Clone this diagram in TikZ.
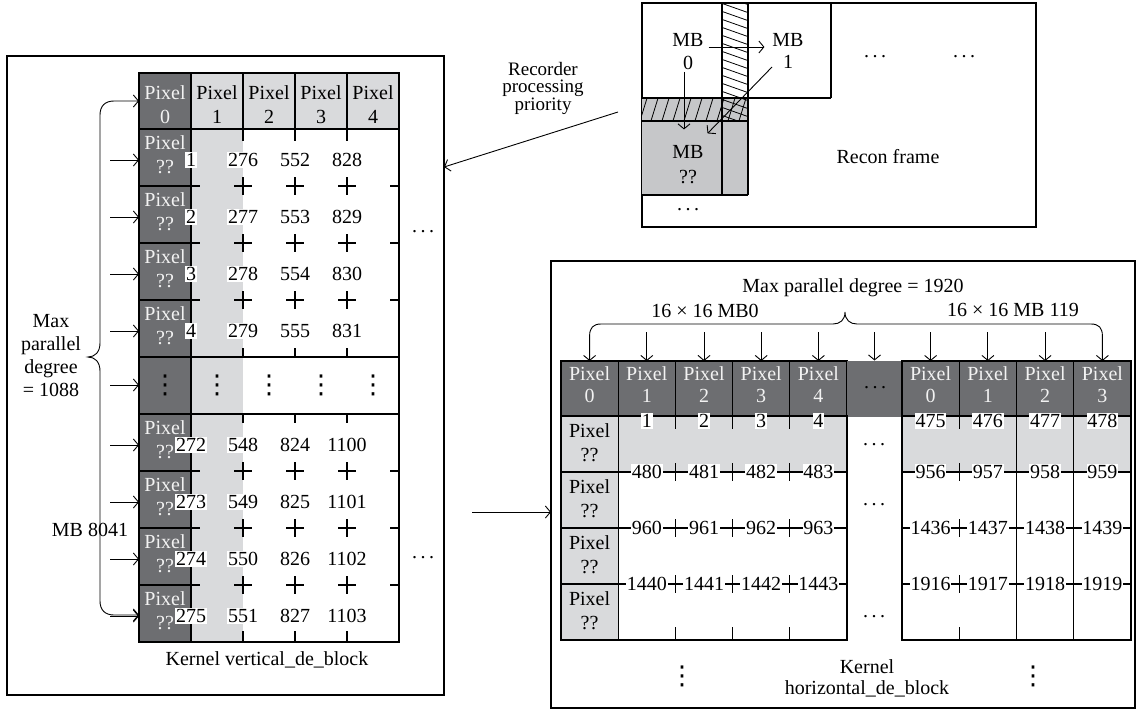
\documentclass[tikz,border=0pt]{standalone}
\usepackage{fontspec}
\setmainfont{Liberation Serif}
\newfontfamily\dvsans{DejaVu Sans}
\usetikzlibrary{arrows.meta,calc}
\definecolor{dkg}{HTML}{6D6E71}
\definecolor{ltg}{HTML}{D9DADC}
\definecolor{rcg}{HTML}{C6C7C9}
\definecolor{wtx}{HTML}{F2F2F2}
\newcommand{\hdt}{.\kern3.5pt.\kern3.5pt.}
\newcommand{\vdt}{{\dvsans\fontsize{26}{26}\selectfont ⋮}}
\begin{document}
\begin{tikzpicture}[x=1pt,y=-1pt,
  font=\fontsize{20}{24}\selectfont,
  every node/.style={inner sep=0pt,outer sep=0pt},
  ln/.style={line width=1.1pt},
  tk/.style={line width=1.3pt},
  arr/.style={line width=0.9pt,-{Straight Barb[length=5pt,width=12pt]}},
  barr/.style={line width=0.9pt,{Straight Barb[length=5pt,width=12pt]}-{Straight Barb[length=5pt,width=12pt]}},
  frame/.style={draw,line width=1.2pt},
  lcell/.style={draw,line width=1.1pt,minimum width=52pt,minimum height=57pt},
  hcellL/.style={draw,line width=1.1pt,minimum width=52pt,minimum height=56pt},
  rcell/.style={draw,line width=1.1pt,minimum width=57.2pt,minimum height=56pt},
  kcell/.style={draw,line width=1.1pt,minimum width=57.25pt,minimum height=55pt},
  num/.style={fill=white,inner xsep=0.8pt,inner ysep=1.5pt},
  wt/.style={text=wtx,align=center},
  bt/.style={align=center},
]
\useasboundingbox (0,0) rectangle (1136,710);
% ---------------- frames
\node[frame,minimum width=437pt,minimum height=639pt] (Lbox) at (225.5,375.5) {};
\node[frame,minimum width=394pt,minimum height=224pt] (Rf) at (839,115) {};
\node[frame,minimum width=584pt,minimum height=447pt] (Rbox) at (843,484.5) {};

% ---------------- left grid: header
\node[hcellL,fill=dkg] (Lh0) at (165,101) {};
\foreach \i/\x in {1/217,2/269,3/321,4/373}
  \node[hcellL,fill=ltg] (Lh\i) at (\x,101) {};
\node[wt] (Lt0) at (165,105) {Pixel\\0};
\foreach \i/\x in {1/217,2/269,3/321,4/373}
  \node[bt] (Lt\i) at (\x,105) {Pixel\\\i};

% ---------------- left grid: body
\fill[ltg] (191,129) rectangle (243,642);
\foreach \i/\t in {1/129,2/186,3/243,4/300,5/357,6/414,7/471,8/528,9/585}
  \node[lcell,fill=dkg] (Ld\i) at (165,\t+28.5) {};
\draw[ln] (139,129) rectangle (399,642);
\draw[ln] (139,357) rectangle (399,414);
\foreach \x in {243,295,347}{
  \draw[tk] (\x,129) -- (\x,141);
  \draw[tk] (\x,348) -- (\x,357);
  \draw[tk] (\x,414) -- (\x,423);
  \draw[tk] (\x,631) -- (\x,642);
  \foreach \y in {186,243,300,471,528,585}{
    \draw[tk] (\x,\y-9) -- (\x,\y+9);
    \draw[tk] (\x-9,\y) -- (\x+9,\y);
  }
}
\foreach \y in {186,243,300,471,528,585}{
  \draw[tk] (191,\y) -- (200,\y);
  \draw[tk] (390,\y) -- (399,\y);
}
\foreach \x in {165,217,269,321,373}
  \node (vd\x) at (\x,385) {\vdt};
\foreach \i/\t/\n/\na/\nb/\nc in {1/129/1/276/552/828,2/186/2/277/553/829,3/243/3/278/554/830,4/300/4/279/555/831,6/414/272/548/824/1100,7/471/273/549/825/1101,8/528/274/550/826/1102,9/585/275/551/827/1103}{
  \node[wt] (Lp\i) at (165,\t+26) {Pixel\\??};
  \node[num] (La\i) at (191,\t+31) {\n};
  \node[num] (Lb\i) at (243,\t+31) {\na};
  \node[num] (Lc\i) at (295,\t+31) {\nb};
  \node[num] (Le\i) at (347,\t+31) {\nc};
  \coordinate (lar\i) at (110,\t+31);
  \draw[arr] (lar\i) -- (Ld\i.west |- lar\i);
}
\coordinate (lar5) at (110,385);
\draw[arr] (lar5) -- (Ld5.west |- lar5);

% bracket
\coordinate (bb) at (114,615);
\draw[barr] (Lh0.west) -- (114,101) .. controls (105,101) and (100,106) .. (100,115)
  -- (100,343) .. controls (100,352) and (95,357) .. (88,357)
  .. controls (95,357) and (100,362) .. (100,371)
  -- (100,601) .. controls (100,610) and (105,615) .. (bb) -- (Ld9.west |- bb);

\node[align=center,font=\fontsize{20}{23}\selectfont] (mpdL) at (51,356) {Max\\parallel\\degree\\= 1088};
\node (mb8041) at (90,530) {MB 8041};
\node (kvd) at (267,660) {Kernel vertical\_de\_block};
\node (ldA) at (423,232) {\hdt};
\node (ldB) at (423,558) {\hdt};

% ---------------- recon frame
\fill[rcg] (642,98) rectangle (748,195);
\begin{scope}
  \clip (642,98) rectangle (748,121);
  \foreach \x in {628,639,...,760} \draw[line width=0.8pt] (\x,124) -- (\x+9,95);
\end{scope}
\begin{scope}
  \clip (722,3) rectangle (748,121);
  \foreach \y in {-14,-6,...,126} \draw[line width=0.8pt] (718,\y) -- (752,\y+12);
\end{scope}
\draw[ln] (722,3) -- (722,195);
\draw[ln] (748,3) -- (748,195);
\draw[ln] (642,98) -- (831,98);
\draw[ln] (831,3) -- (831,98);
\draw[ln] (642,121) -- (748,121);
\draw[ln] (642,195) -- (748,195);
\node (mb0) at (688,40) {MB};
\node (mb0n) at (688,63) {0};
\node (mb1) at (788,40) {MB};
\node (mb1n) at (788,62) {1};
\node (mbq) at (688,152) {MB};
\node (mbqn) at (688,177) {??};
\node (rdA) at (688,210) {\hdt};
\node (rdB) at (875,57) {\hdt};
\node (rdC) at (964,57) {\hdt};
\node (rft) at (888,157) {Recon frame};
\draw[arr] ($(mb0.east)+(5,7)$) -- ($(mb1.west)+(-8,7)$);
\draw[arr] ($(mb0n.south)+(-4,2)$) -- ($(mbq.north)+(-4,-16)$);
\draw[arr] ($(mb1n.west)+(-11,5)$) -- ($(mbq.north east)+(4,-12)$);

\node[align=center,font=\fontsize{19}{17.5}\selectfont] (rpp) at (543,88) {Recorder\\processing\\priority};
\coordinate (rps) at (618,112);
\coordinate (rpe) at (445,167);
\draw[arr] (rps) -- (Lbox.east |- rpe);

% ---------------- right panel
\coordinate (ra) at (472,512);
\draw[arr] (ra) -- (Rbox.west |- ra);

% header
\foreach \i/\x in {0/589.6,1/646.8,2/704,3/761.2,4/818.4}{
  \node[rcell,minimum height=55pt,fill=dkg] (Rh\i) at (\x,388.5) {};
  \node[wt,font=\fontsize{20}{22}\selectfont] (Rht\i) at (\x,385) {Pixel\\\i};
}
\node[fill=dkg,minimum width=55pt,minimum height=56pt] (Rdot) at (874.5,388.5) {};
\node (Rdt) at (875,388) {\hdt};
\foreach \i/\x in {0/930.6,1/987.9,2/1045.1,3/1102.4}{
  \node[kcell,fill=dkg] (Rk\i) at (\x,388.5) {};
  \node[wt,font=\fontsize{20}{22}\selectfont] (Rkt\i) at (\x,385) {Pixel\\\i};
}
% body
\fill[ltg] (618.2,416) rectangle (847,472);
\fill[ltg] (902,416) rectangle (1131,472);
\foreach \i/\t in {1/416,2/472,3/528,4/584}{
  \node[rcell,fill=ltg] (Rc\i) at (589.6,\t+28) {};
  \node[bt] (Rct\i) at (589.6,\t+27) {Pixel\\??};
}
\draw[ln] (618.2,416) rectangle (847,640);
\draw[ln] (902,416) rectangle (1131,640);
\foreach \y in {472,528,584}{
  \draw[ln] (618.2,\y) -- (847,\y);
  \draw[ln] (902,\y) -- (1131,\y);
}
\foreach \x in {675.4,732.6,789.8,959.25}{
  \draw[tk] (\x,416) -- (\x,429);
  \draw[tk] (\x,627) -- (\x,640);
  \foreach \y in {472,528,584} \draw[tk] (\x,\y-9) -- (\x,\y+9);
}
\draw[ln] (1016.5,416) -- (1016.5,640);
\draw[ln] (1073.75,416) -- (1073.75,640);
\foreach \k/\x in {1/646.8,2/704,3/761.2,4/818.4}{
  \pgfmathtruncatemacro{\na}{479+\k}
  \pgfmathtruncatemacro{\nb}{959+\k}
  \pgfmathtruncatemacro{\nc}{1439+\k}
  \node[num] (Ra\k) at (\x,421) {\k};
  \node[num] (Rb\k) at (\x,472) {\na};
  \node[num] (Rcc\k) at (\x,528) {\nb};
  \node[num] (Rd\k) at (\x,584) {\nc};
}
\foreach \j/\x in {0/930.6,1/987.9,2/1045.1,3/1102.4}{
  \pgfmathtruncatemacro{\n}{475+\j}
  \pgfmathtruncatemacro{\na}{956+\j}
  \pgfmathtruncatemacro{\nb}{1436+\j}
  \pgfmathtruncatemacro{\nc}{1916+\j}
  \node[num] (Sa\j) at (\x,421) {\n};
  \node[num] (Sb\j) at (\x,472) {\na};
  \node[num] (Sc\j) at (\x,528) {\nb};
  \node[num] (Sd\j) at (\x,584) {\nc};
}
\node (rdD) at (874,445) {\hdt};
\node (rdE) at (874,505) {\hdt};
\node (rdF) at (874,617) {\hdt};

% top arrows and brace
\coordinate (ty) at (0,332);
\foreach \n in {Rh1,Rh2,Rh3,Rh4,Rdot,Rk0,Rk1,Rk2}
  \draw[arr] (\n.north |- ty) -- (\n.north);
\draw[barr] (Rh0.north) -- (589.6,336) .. controls (589.6,328) and (593,324) .. (601,324)
  -- (833,324) .. controls (840,324) and (845,320) .. (845,312)
  .. controls (845,320) and (850,324) .. (857,324)
  -- (1091,324) .. controls (1099,324) and (1102.4,328) .. (1102.4,336) -- (Rk3.north);
\node (mpdR) at (853,288) {Max parallel degree = 1920};
\node (mbA) at (705,311) {16 × 16 MB0};
\node (mbB) at (1013,310) {16 × 16 MB 119};

\node (vdA) at (682,676) {\vdt};
\node (vdB) at (1033,676) {\vdt};
\node[align=center,font=\fontsize{20}{21}\selectfont] (khd) at (867,678) {Kernel\\horizontal\_de\_block};
\end{tikzpicture}
\end{document}
